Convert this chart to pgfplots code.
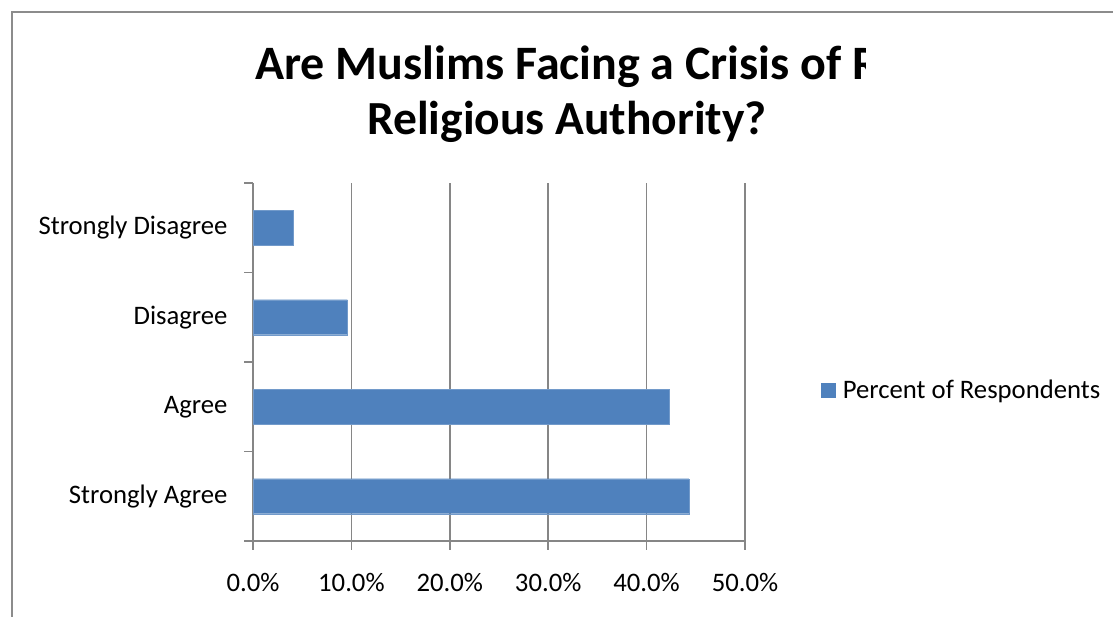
\documentclass[border=0pt]{standalone}
\usepackage{pgfplots}
\pgfplotsset{compat=1.18}
\usepackage{fontspec}
\setmainfont{Carlito}
\definecolor{barblue}{HTML}{4F81BD}
\definecolor{gridgray}{HTML}{868686}
\definecolor{framegray}{HTML}{8C8C8C}
\begin{document}
\begin{tikzpicture}[x=1bp,y=1bp]
\useasboundingbox (0,0) rectangle (1113,617);
\draw[framegray, line width=2bp] (12,-5) -- (12,605) -- (1120,605);
\begin{scope}
\clip (0,0) rectangle (865,617);
\node[anchor=base west, inner sep=0, font=\fontsize{48bp}{56bp}\selectfont\bfseries] at (255,537) {Are Muslims Facing a Crisis of Religious};
\end{scope}
\node[anchor=base, inner sep=0, font=\fontsize{47.5bp}{56bp}\selectfont\bfseries] at (567,482) {Religious Authority?};
\begin{axis}[
  at={(253bp,76bp)}, anchor=south west,
  scale only axis, width=492bp, height=358bp,
  xbar, bar width=35bp, bar shift=0pt,
  xmin=0, xmax=50, ymin=-0.5, ymax=3.5,
  axis x line*=bottom, axis y line*=left,
  axis line style={gridgray, line width=1.5bp, -},
  xtick={0,10,20,30,40,50},
  xticklabel={\pgfmathprintnumber[fixed,fixed zerofill,precision=1]{\tick}\%},
  /pgf/number format/assume math mode=true,
  xmajorgrids, grid style={gridgray, line width=1.5bp},
  tick align=outside, major tick length=9bp,
  tick style={gridgray, line width=1.5bp},
  ytick={-0.5,0.5,1.5,2.5,3.5}, yticklabels={},
  extra y ticks={0,1,2,3},
  extra y tick labels={Strongly Agree,Agree,Disagree,Strongly Disagree},
  extra y tick style={major tick length=0pt, grid=none},
  ticklabel style={font=\fontsize{26.7bp}{32bp}\selectfont, text=black},
  yticklabel style={xshift=-22bp},
  xticklabel style={yshift=-20bp},
  legend style={at={(1.155,0.422)}, anchor=west, draw=none, inner sep=0pt,
    font=\fontsize{26.7bp}{32bp}\selectfont},
  legend image code/.code={\fill[barblue] (0bp,-7bp) rectangle (14bp,7bp);},
  legend cell align=left,
]
\addplot[fill=barblue, draw=barblue!80!white] coordinates {(44.3,0) (42.3,1) (9.6,2) (4.1,3)};
\addlegendentry{\hspace{5bp}Percent of Respondents}
\end{axis}
\end{tikzpicture}
\end{document}
